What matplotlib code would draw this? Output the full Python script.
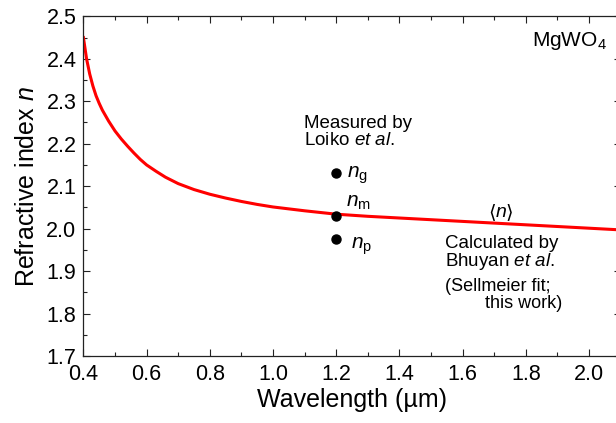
import matplotlib
matplotlib.use("Agg")
import matplotlib.pyplot as plt
from matplotlib.ticker import MultipleLocator, FormatStrFormatter

# fonts: Arial-like look
plt.rcParams['font.family'] = ['Liberation Sans', 'DejaVu Sans']
plt.rcParams['mathtext.fontset'] = 'custom'
plt.rcParams['mathtext.rm'] = 'Liberation Sans'
plt.rcParams['mathtext.it'] = 'Liberation Sans:italic'

# Sellmeier fit curve <n>
wavelength = [0.40, 0.41, 0.42, 0.43, 0.44, 0.45, 0.46, 0.48, 0.50, 0.52, 0.54,
              0.56, 0.58, 0.60, 0.63, 0.66, 0.70, 0.75, 0.80, 0.85, 0.90, 0.95,
              1.00, 1.10, 1.20, 1.30, 1.40, 1.60, 1.80, 2.00, 2.10]
n_fit = [2.450, 2.400, 2.364, 2.336, 2.313, 2.295, 2.279, 2.253, 2.230, 2.211, 2.194,
         2.178, 2.163, 2.150, 2.135, 2.121, 2.106, 2.092, 2.081, 2.072, 2.064, 2.057,
         2.051, 2.042, 2.034, 2.029, 2.025, 2.017, 2.009, 2.001, 1.997]

# measured points (Loiko et al.)
meas_wavelength = [1.2, 1.2, 1.2]
meas_n = [2.13, 2.03, 1.975]

fig = plt.figure(figsize=(6.16, 4.23), dpi=100)
ax = fig.add_axes([0.1354, 0.1584, 0.872, 0.803])

ax.plot(wavelength, n_fit, color='#ff0000', lw=2.2, zorder=2)
ax.plot(meas_wavelength, meas_n, 'o', color='black', ms=6.5, zorder=3)

ax.set_xlim(0.4, 2.1)
ax.set_ylim(1.7, 2.5)
ax.xaxis.set_major_locator(MultipleLocator(0.2))
ax.xaxis.set_minor_locator(MultipleLocator(0.1))
ax.yaxis.set_major_locator(MultipleLocator(0.1))
ax.yaxis.set_minor_locator(MultipleLocator(0.05))
ax.xaxis.set_major_formatter(FormatStrFormatter('%.1f'))
ax.yaxis.set_major_formatter(FormatStrFormatter('%.1f'))

ax.tick_params(which='both', direction='in', top=True, right=True,
               width=0.8, color='#222222', labelsize=15.5)
ax.tick_params(which='major', length=5)
ax.tick_params(which='minor', length=3)
ax.tick_params(axis='x', pad=6)
ax.tick_params(axis='y', pad=5)
for s in ax.spines.values():
    s.set_linewidth(0.9)
    s.set_color('#222222')

ax.set_xlabel('Wavelength (\u00b5m)', fontsize=18, labelpad=2)
ax.set_ylabel('Refractive index $n$', fontsize=18, labelpad=5)

# annotations
ax.text(1.819, 2.442, 'MgWO$_4$', fontsize=15, va='center', ha='left')

ax.text(1.098, 2.238, 'Measured by', fontsize=13.5, va='baseline')
ax.text(1.098, 2.196, 'Loiko $et\\ al.$', fontsize=13.5, va='baseline')

ax.text(1.235, 2.121, '$n_\\mathrm{g}$', fontsize=15, va='baseline')
ax.text(1.230, 2.051, '$n_\\mathrm{m}$', fontsize=15, va='baseline')
ax.text(1.246, 1.952, '$n_\\mathrm{p}$', fontsize=15, va='baseline')

# <n> label: angle brackets from DejaVu, italic n from Liberation
ax.annotate('\u27e8', (1.680, 2.027), xytext=(0, 0), textcoords='offset points',
            fontsize=14, va='baseline', family='DejaVu Sans')
ax.annotate('$n$', (1.680, 2.027), xytext=(5, 0), textcoords='offset points',
            fontsize=14, va='baseline')
ax.annotate('\u27e9', (1.680, 2.027), xytext=(13, 0), textcoords='offset points',
            fontsize=14, va='baseline', family='DejaVu Sans')

ax.text(1.544, 1.954, 'Calculated by', fontsize=13.5, va='baseline')
ax.text(1.544, 1.911, 'Bhuyan $et\\ al.$', fontsize=13.5, va='baseline')
ax.text(1.544, 1.852, '(Sellmeier fit;', fontsize=13, va='baseline')
ax.text(1.915, 1.813, 'this work)', fontsize=13, va='baseline', ha='right')

fig.savefig('out.png', dpi=100)
